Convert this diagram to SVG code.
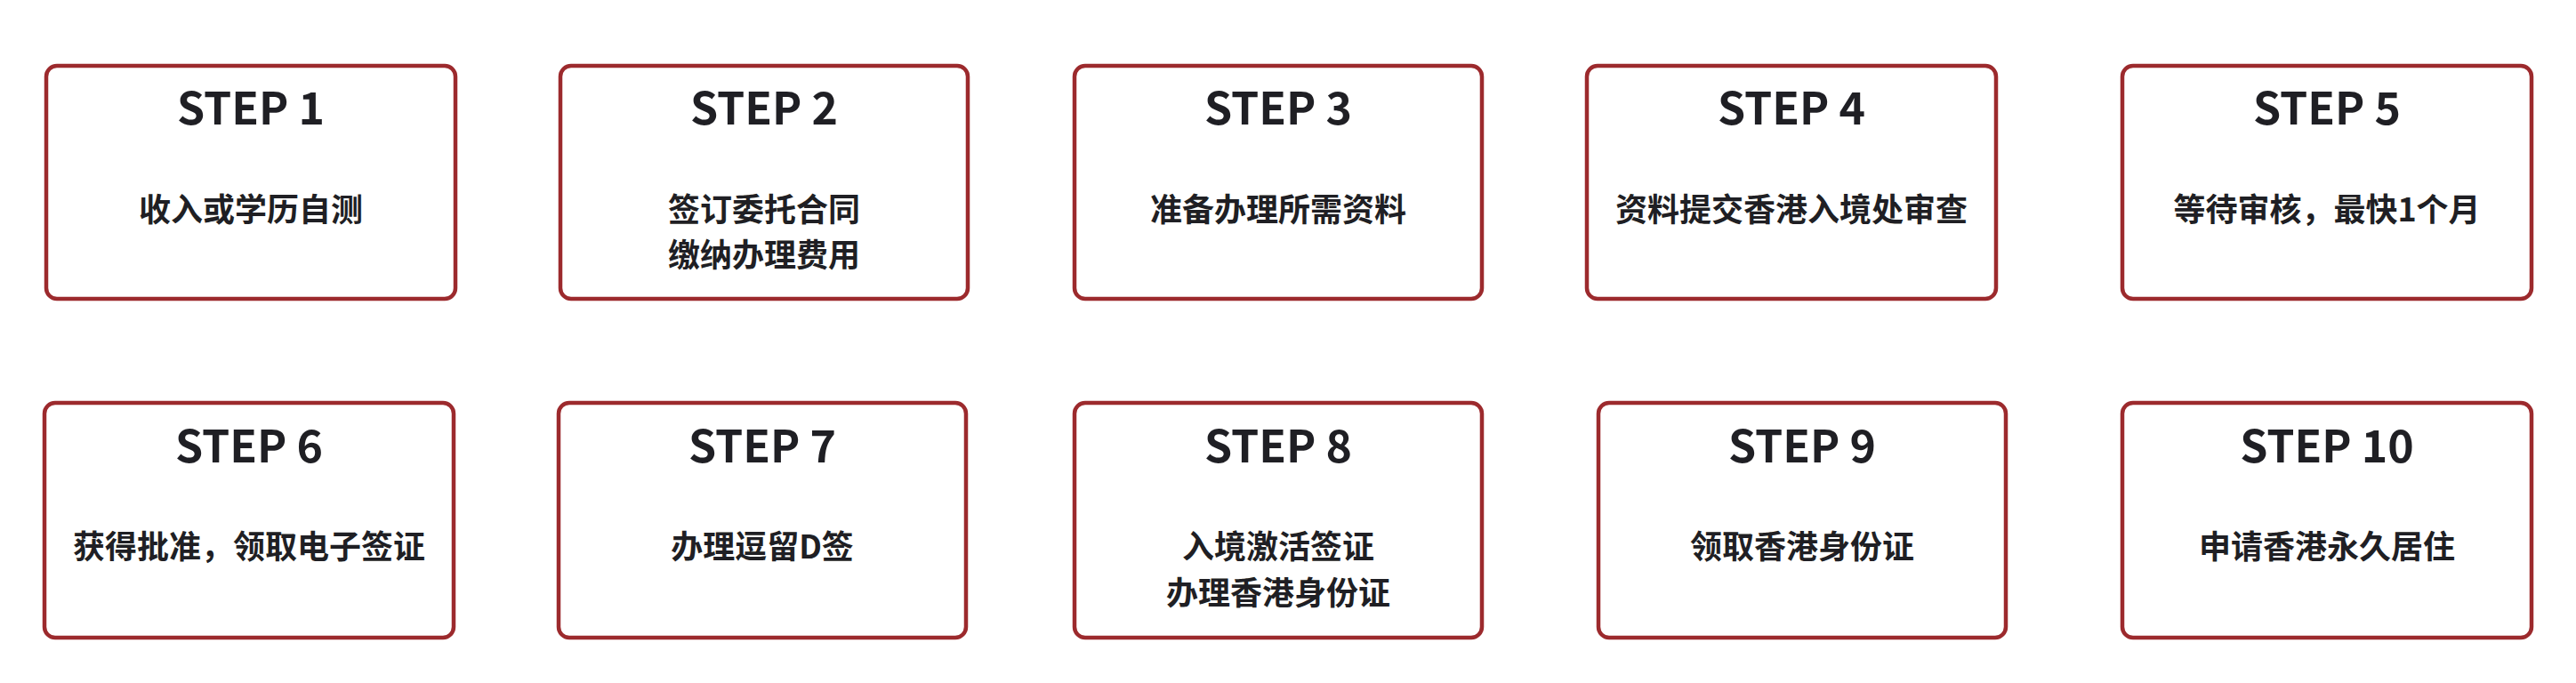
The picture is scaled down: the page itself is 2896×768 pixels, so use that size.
<svg xmlns="http://www.w3.org/2000/svg" width="2896" height="768" viewBox="0 0 2896 768">
<style>
.box{fill:#ffffff;stroke:#9c2a2d;stroke-width:4.5}
.step{font-family:"Noto Sans CJK SC","Noto Sans",sans-serif;font-weight:700;font-size:50px;fill:#1f1f24;text-anchor:middle}
.desc{font-family:"Noto Sans CJK SC",sans-serif;font-weight:700;font-size:36px;fill:#1f1f24;text-anchor:middle}
</style>
<rect width="2896" height="768" fill="#ffffff"/>
<g id="connectors"></g>
<g id="step1"><rect class="box" x="52" y="74" width="460" height="262" rx="12"/><text class="step" x="282" y="140">STEP 1</text><text class="desc" x="282" y="249">收入或学历自测</text></g>
<g id="step2"><rect class="box" x="630" y="74" width="458" height="262" rx="12"/><text class="step" x="859" y="140">STEP 2</text><text class="desc" x="859" y="249">签订委托合同</text><text class="desc" x="859" y="300">缴纳办理费用</text></g>
<g id="step3"><rect class="box" x="1208" y="74" width="458" height="262" rx="12"/><text class="step" x="1437" y="140">STEP 3</text><text class="desc" x="1437" y="249">准备办理所需资料</text></g>
<g id="step4"><rect class="box" x="1784" y="74" width="460" height="262" rx="12"/><text class="step" x="2014" y="140">STEP 4</text><text class="desc" x="2014" y="249">资料提交香港入境处审查</text></g>
<g id="step5"><rect class="box" x="2386" y="74" width="460" height="262" rx="12"/><text class="step" x="2616" y="140">STEP 5</text><text class="desc" x="2616" y="249">等待审核，最快1个月</text></g>
<g id="step6"><rect class="box" x="50" y="453" width="460" height="264" rx="12"/><text class="step" x="280" y="520">STEP 6</text><text class="desc" x="280" y="628">获得批准，领取电子签证</text></g>
<g id="step7"><rect class="box" x="628" y="453" width="458" height="264" rx="12"/><text class="step" x="857" y="520">STEP 7</text><text class="desc" x="857" y="628">办理逗留D签</text></g>
<g id="step8"><rect class="box" x="1208" y="453" width="458" height="264" rx="12"/><text class="step" x="1437" y="520">STEP 8</text><text class="desc" x="1437" y="628">入境激活签证</text><text class="desc" x="1437" y="680">办理香港身份证</text></g>
<g id="step9"><rect class="box" x="1797" y="453" width="458" height="264" rx="12"/><text class="step" x="2026" y="520">STEP 9</text><text class="desc" x="2026" y="628">领取香港身份证</text></g>
<g id="step10"><rect class="box" x="2386" y="453" width="460" height="264" rx="12"/><text class="step" x="2616" y="520">STEP 10</text><text class="desc" x="2616" y="628">申请香港永久居住</text></g>
</svg>
